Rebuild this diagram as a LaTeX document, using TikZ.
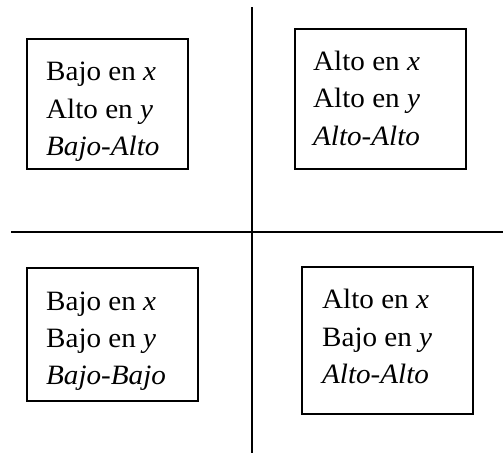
\documentclass[tikz,border=0pt]{standalone}
\usepackage{fontspec}
\setmainfont{Liberation Serif}
\begin{document}
\begin{tikzpicture}[x=1pt,y=-1pt,
  qbox/.style={draw=black, line width=1.6pt, inner sep=0pt, fill=white},
  axis/.style={draw=black, line width=2pt},
  lbl/.style={anchor=base west, inner sep=0pt, font=\fontsize{28}{32}\selectfont}]
\useasboundingbox (0,0) rectangle (503,453);
% axes
\coordinate (vtop) at (252,7);
\coordinate (vbot) at (252,453);
\coordinate (hleft) at (11,232);
\coordinate (hright) at (503,232);
\draw[axis] (vtop) -- (vbot);
\draw[axis] (hleft) -- (hright);
% boxes
\node[qbox, minimum width=161pt, minimum height=130pt] (tl) at (107.5,104) {};
\node[qbox, minimum width=171pt, minimum height=140pt] (tr) at (380.5,99) {};
\node[qbox, minimum width=171pt, minimum height=133pt] (bl) at (112.5,334.5) {};
\node[qbox, minimum width=171pt, minimum height=147pt] (br) at (387.5,340.5) {};
% texts
\node[lbl] (tl1) at (46,80) {\scalebox{1.04}[1]{Bajo en \textit{x}}};
\node[lbl] (tl2) at (46,118) {\scalebox{1.04}[1]{Alto en \textit{y}}};
\node[lbl] (tl3) at (46,155) {\scalebox{1.04}[1]{\textit{Bajo-Alto}}};
\node[lbl] (tr1) at (313,70) {\scalebox{1.04}[1]{Alto en \textit{x}}};
\node[lbl] (tr2) at (313,107) {\scalebox{1.04}[1]{Alto en \textit{y}}};
\node[lbl] (tr3) at (313,145) {\scalebox{1.04}[1]{\textit{Alto-Alto}}};
\node[lbl] (bl1) at (46,310) {\scalebox{1.04}[1]{Bajo en \textit{x}}};
\node[lbl] (bl2) at (46,347) {\scalebox{1.04}[1]{Bajo en \textit{y}}};
\node[lbl] (bl3) at (46,384) {\scalebox{1.04}[1]{\textit{Bajo-Bajo}}};
\node[lbl] (br1) at (322,308) {\scalebox{1.04}[1]{Alto en \textit{x}}};
\node[lbl] (br2) at (322,346) {\scalebox{1.04}[1]{Bajo en \textit{y}}};
\node[lbl] (br3) at (322,383) {\scalebox{1.04}[1]{\textit{Alto-Alto}}};
\end{tikzpicture}
\end{document}
